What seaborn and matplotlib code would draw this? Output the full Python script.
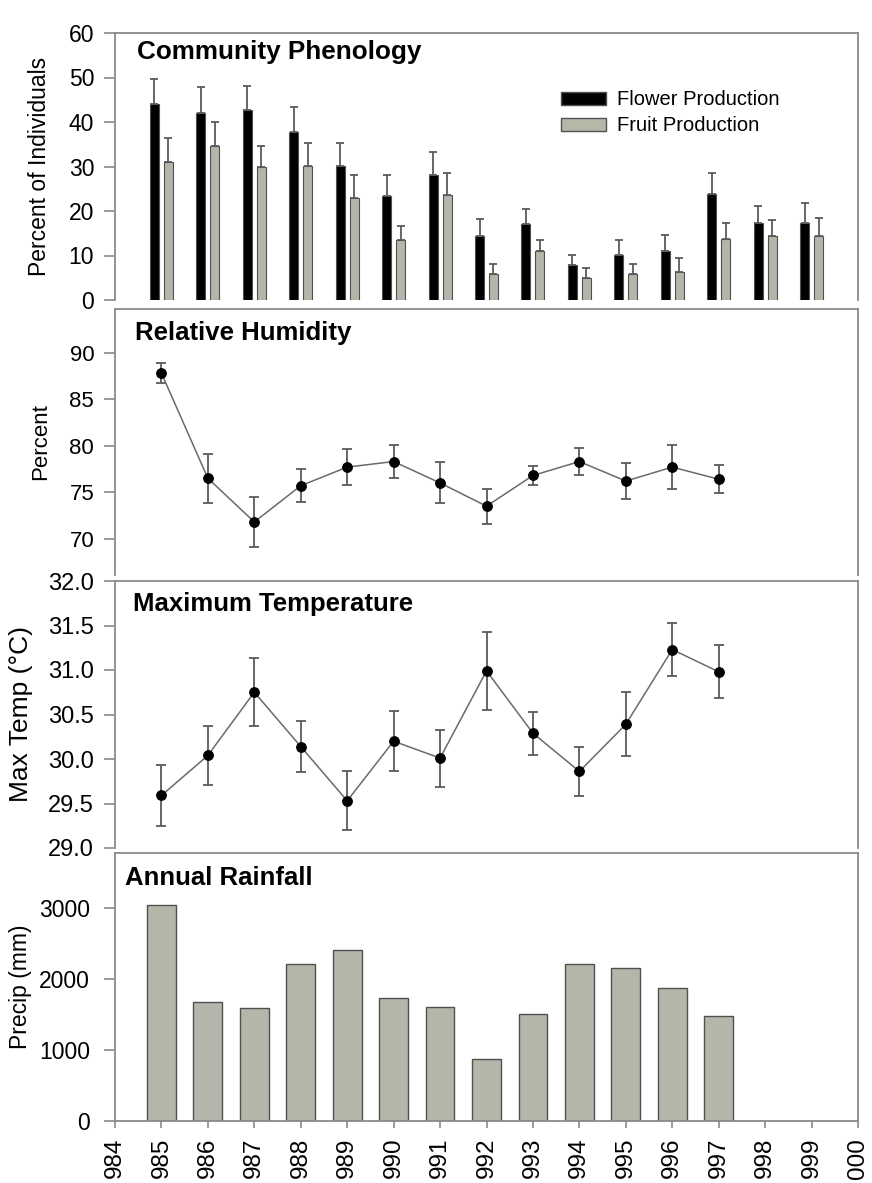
import matplotlib
matplotlib.use("Agg")
import matplotlib.pyplot as plt
from matplotlib.patches import Patch
import numpy as np
import pandas as pd
import seaborn as sns

# data
pheno_years = [1985, 1986, 1987, 1988, 1989, 1990, 1991, 1992, 1993, 1994, 1995, 1996, 1997, 1998, 1999]
flower = [44.1, 42.0, 42.8, 37.7, 30.1, 23.4, 28.0, 14.4, 17.0, 7.8, 10.1, 10.9, 23.9, 17.3, 17.3]
flower_se = [5.6, 5.8, 5.3, 5.6, 5.1, 4.7, 5.3, 3.8, 3.5, 2.3, 3.3, 3.6, 4.7, 3.8, 4.4]
fruit = [31.1, 34.7, 29.8, 30.1, 22.9, 13.4, 23.6, 5.9, 10.9, 5.0, 5.9, 6.4, 13.6, 14.4, 14.4]
fruit_se = [5.4, 5.3, 4.7, 5.1, 5.2, 3.2, 5.0, 2.2, 2.5, 2.1, 2.2, 3.1, 3.7, 3.5, 4.0]

clim_years = [1985, 1986, 1987, 1988, 1989, 1990, 1991, 1992, 1993, 1994, 1995, 1996, 1997]
humidity = [87.8, 76.5, 71.8, 75.7, 77.7, 78.3, 76.0, 73.5, 76.8, 78.3, 76.2, 77.7, 76.4]
humidity_se = [1.1, 2.65, 2.7, 1.75, 1.9, 1.8, 2.2, 1.9, 1.05, 1.5, 1.95, 2.4, 1.5]
max_temp = [29.59, 30.04, 30.75, 30.14, 29.53, 30.20, 30.01, 30.99, 30.29, 29.86, 30.39, 31.23, 30.98]
max_temp_se = [0.34, 0.33, 0.38, 0.29, 0.33, 0.34, 0.32, 0.44, 0.24, 0.28, 0.36, 0.30, 0.30]
rainfall = [3038, 1678, 1585, 2208, 2414, 1730, 1599, 867, 1510, 2208, 2157, 1880, 1477]

tick_years = [1984, 1985, 1986, 1987, 1988, 1989, 1990, 1991, 1992,
              1993, 1994, 1995, 1996, 1997, 1998, 1999, 2000]
tick_labels = ["984", "985", "986", "987", "988", "989", "990", "991", "992",
               "993", "994", "995", "996", "997", "998", "999", "000"]

sns.set_style("white")
plt.rcParams['font.family'] = ['Liberation Sans', 'DejaVu Sans']
plt.rcParams['text.color'] = 'black'
plt.rcParams['axes.labelcolor'] = 'black'

FRAME = "#8a8a8a"
BAR_GRAY = "#b7b7a8"
ERR = "#5a5a5a"

W, H = 872, 1183
fig = plt.figure(figsize=(W / 100, H / 100), dpi=100)


def panel(top, bottom, left=115, right=858):
    return fig.add_axes([left / W, 1 - bottom / H, (right - left) / W, (bottom - top) / H])


def style(ax, bottom_spine=False):
    for name, sp in ax.spines.items():
        sp.set_color(FRAME)
        sp.set_linewidth(1.3)
    ax.spines["bottom"].set_visible(bottom_spine)
    ax.tick_params(axis="y", direction="out", length=8, width=1.2, color=FRAME,
                   labelcolor="black", pad=7, left=True)
    ax.set_xlim(1984, 2000)
    if not bottom_spine:
        ax.set_xticks([])


def line_panel(ax, values, errors):
    ax.errorbar(clim_years, values, yerr=errors, fmt="none",
                ecolor=ERR, elinewidth=1.3, capsize=3.5, capthick=1.3, zorder=2)
    sns.lineplot(x=clim_years, y=values, color="#6a6a6a", linewidth=1.1,
                 marker="o", markersize=7, markerfacecolor="black",
                 markeredgecolor="black", zorder=3, ax=ax)


# Community Phenology
ax1 = panel(33, 300)
pheno = pd.DataFrame({
    "year": pheno_years * 2,
    "value": flower + fruit,
    "kind": ["Flower Production"] * len(pheno_years) + ["Fruit Production"] * len(pheno_years),
})
sns.barplot(
    data=pheno, x="year", y="value", hue="kind",
    palette=["black", BAR_GRAY], native_scale=True,
    width=0.6, gap=0.35, edgecolor="#505050", linewidth=0.8,
    errorbar=None, legend=False, ax=ax1
)
for cont, se in zip(ax1.containers, [flower_se, fruit_se]):
    xs = [b.get_x() + b.get_width() / 2 for b in cont]
    hs = [b.get_height() for b in cont]
    ax1.errorbar(xs, hs, yerr=[np.zeros(len(se)), se], fmt="none",
                 ecolor=ERR, elinewidth=1.3, capsize=3, capthick=1.3)
ax1.set_ylim(0, 60)
ax1.set_yticks([0, 10, 20, 30, 40, 50, 60])
style(ax1)
ax1.tick_params(axis="y", labelsize=16.5)
ax1.set_ylabel("Percent of Individuals", fontsize=16.5)
ax1.yaxis.set_label_coords(-0.086, 0.5)
ax1.set_xlabel("")
ax1.text(0.03, 0.975, "Community Phenology", transform=ax1.transAxes,
         fontsize=18.8, fontweight="bold", va="top", ha="left")
handles = [Patch(facecolor="black", edgecolor="#505050", label="Flower Production"),
           Patch(facecolor=BAR_GRAY, edgecolor="#505050", label="Fruit Production")]
ax1.legend(handles=handles, loc="upper left", bbox_to_anchor=(0.59, 0.815),
           frameon=False, fontsize=14.5, handlelength=2.2, handleheight=0.6,
           handletextpad=0.55, labelspacing=0.35, borderaxespad=0)

# Relative Humidity
ax2 = panel(309, 575)
line_panel(ax2, humidity, humidity_se)
ax2.set_ylim(66.1, 94.7)
ax2.set_yticks([70, 75, 80, 85, 90])
style(ax2)
ax2.tick_params(axis="y", labelsize=16)
ax2.set_ylabel("Percent", fontsize=16)
ax2.yaxis.set_label_coords(-0.086, 0.5)
ax2.text(0.027, 0.955, "Relative Humidity", transform=ax2.transAxes,
         fontsize=18.5, fontweight="bold", va="top", ha="left")

# Maximum Temperature
ax3 = panel(581, 848)
line_panel(ax3, max_temp, max_temp_se)
ax3.set_ylim(29, 32)
ax3.set_yticks([29.0, 29.5, 30.0, 30.5, 31.0, 31.5, 32.0])
ax3.set_yticklabels(["29.0", "29.5", "30.0", "30.5", "31.0", "31.5", "32.0"])
style(ax3)
ax3.tick_params(axis="y", labelsize=17)
ax3.set_ylabel("Max Temp (°C)", fontsize=19)
ax3.yaxis.set_label_coords(-0.11, 0.5)
ax3.text(0.024, 0.96, "Maximum Temperature", transform=ax3.transAxes,
         fontsize=18.5, fontweight="bold", va="top", ha="left")

# Annual Rainfall
ax4 = panel(853, 1121)
sns.barplot(x=clim_years, y=rainfall, native_scale=True, width=0.62,
            color=BAR_GRAY, edgecolor="#505050", linewidth=1.0,
            errorbar=None, ax=ax4)
ax4.set_ylim(0, 3775)
ax4.set_yticks([0, 1000, 2000, 3000])
style(ax4, bottom_spine=True)
ax4.set_xticks(tick_years)
ax4.set_xticklabels(tick_labels, rotation=90, fontsize=17.5)
ax4.tick_params(axis="x", direction="out", length=5, width=1.2, color=FRAME,
                labelcolor="black", pad=7, bottom=True)
ax4.tick_params(axis="y", labelsize=16.5, pad=10)
ax4.set_ylabel("Precip (mm)", fontsize=16.5)
ax4.yaxis.set_label_coords(-0.112, 0.5)
ax4.set_xlabel("")
ax4.text(0.013, 0.953, "Annual Rainfall", transform=ax4.transAxes,
         fontsize=18.5, fontweight="bold", va="top", ha="left")

fig.savefig("out.png", dpi=100)
plt.close(fig)
